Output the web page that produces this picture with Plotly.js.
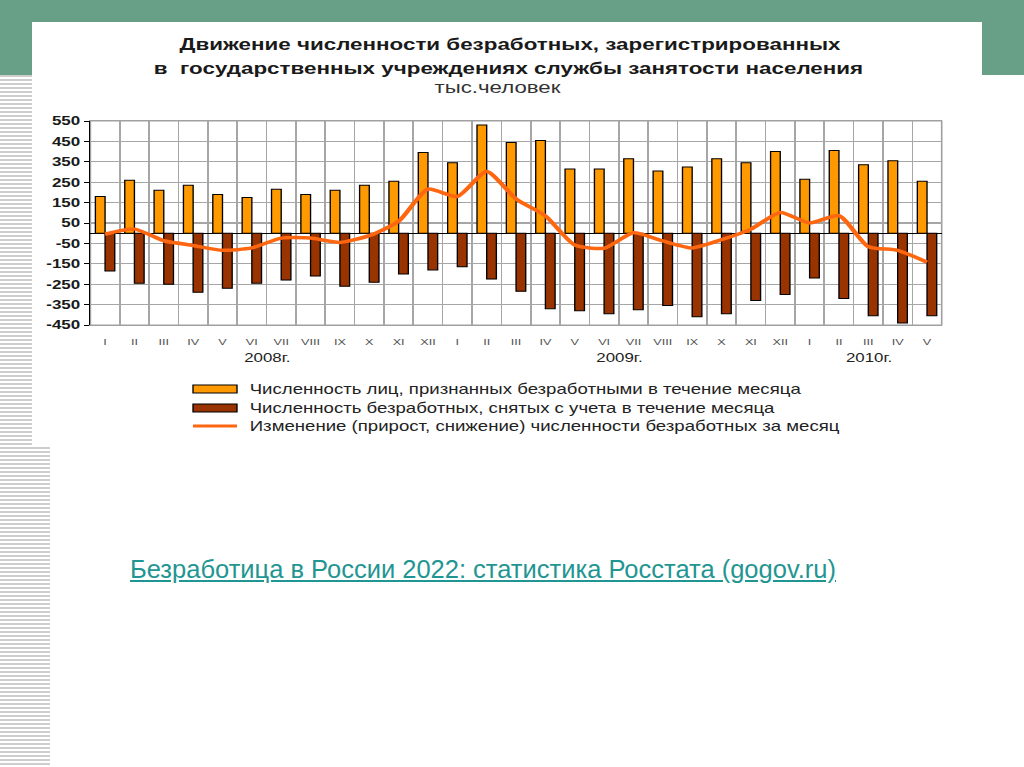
<!DOCTYPE html>
<html>
<head>
<meta charset="utf-8">
<script src="https://cdn.plot.ly/plotly-3.0.1.min.js"></script>
<style>
  html, body { margin:0; padding:0; width:1024px; height:767px; overflow:hidden; background:#ffffff; font-family:"Liberation Sans", Arial, sans-serif; }
  .green { position:absolute; background:#689f87; }
  .stripes { position:absolute; background:repeating-linear-gradient(to bottom, #cdcdcd 0px, #cdcdcd 2px, #ffffff 2px, #ffffff 4px); }
  #panel { position:absolute; left:32px; top:22px; width:950px; height:425px; background:#ffffff; }
  #chartwrap { position:absolute; left:0; top:0; width:759px; height:767px; transform:scaleX(1.34914); transform-origin:0 0; }
  #link { position:absolute; left:130px; top:555px; font-family:"Liberation Sans", Arial, sans-serif; font-size:25.5px; color:#1f9692; text-decoration:underline; white-space:nowrap; }
</style>
</head>
<body>
<div class="green" style="left:0;top:0;width:1024px;height:22px;"></div>
<div class="green" style="left:0;top:22px;width:32px;height:53px;"></div>
<div class="green" style="left:982px;top:22px;width:42px;height:53px;"></div>
<div class="stripes" style="left:0;top:75px;width:32px;height:372px;"></div>
<div class="stripes" style="left:0;top:447px;width:50px;height:320px;"></div>
<div id="panel"></div>
<div id="chartwrap"><div id="chart" style="width:759px;height:767px;"></div></div>
<a id="link">Безработица в России 2022: статистика Росстата (gogov.ru)</a>
<script>
// ---- data ----
const monthLabels = ['I','II','III','IV','V','VI','VII','VIII','IX','X','XI','XII',
                     'I','II','III','IV','V','VI','VII','VIII','IX','X','XI','XII',
                     'I','II','III','IV','V'];
const yearLabels = ['2008г.','2009г.','2010г.'];
const yearSpans = [12, 12, 5];
const registered = [180,260,210,235,190,175,215,190,210,235,255,395,
                    345,530,445,455,315,315,365,305,325,365,345,400,
                    265,405,335,355,255];
const removed = [-185,-245,-250,-290,-270,-245,-230,-210,-260,-240,-200,-180,
                 -165,-225,-285,-370,-380,-395,-375,-355,-410,-395,-330,-300,
                 -220,-320,-405,-440,-405];
const change = [-5,20,-37,-60,-84,-72,-24,-24,-45,-12,58,216,
                180,302,168,85,-58,-74,2,-38,-72,-32,20,102,
                50,86,-66,-84,-142];
const seriesNames = ['Численность лиц, признанных безработными в течение месяца',
                     'Численность безработных, снятых с учета в течение месяца',
                     'Изменение (прирост, снижение) численности безработных за месяц'];
const titleLines = ['Движение численности безработных, зарегистрированных',
                    'в  государственных учреждениях службы занятости населения'];
const unitLabel = 'тыс.человек';
const yTicks = [550,450,350,250,150,50,-50,-150,-250,-350,-450];

// ---- build ----
const W = 759, H = 767;
const S = 1024 / W;
const L = Math.round(90 / S), R = Math.round(W - 942 / S), T = 121, B = 442;
const plotW = W - L - R, plotH = H - T - B;
const px = X => (X / S - L) / plotW;      // page x -> paper x
const py = Y => (H - B - Y) / plotH;      // page y -> paper y

const cats = monthLabels.map((m, i) => i + '|' + m);
const colors = { reg:'#ff9900', rem:'#993300', line:'#ff6610' };
const baseFont = '"Liberation Sans", Arial, sans-serif';

const traces = [
  { type:'bar', x:cats, y:registered, name:seriesNames[0], showlegend:false,
    marker:{ color:colors.reg, line:{ color:'#000000', width:1 } } },
  { type:'bar', x:cats, y:removed, name:seriesNames[1], showlegend:false,
    marker:{ color:colors.rem, line:{ color:'#000000', width:1 } } },
  { type:'scatter', mode:'lines', x:cats, y:change, name:seriesNames[2], showlegend:false,
    line:{ color:colors.line, width:3.5, shape:'spline', smoothing:0.6 } }
];

const annotations = [];
annotations.push({ xref:'paper', yref:'paper', x:px(509), y:py(68), text:'<b>' + titleLines[1] + '</b>',
  showarrow:false, xanchor:'center', yanchor:'middle', font:{ size:16.6, color:'#1a1a1a' } });
annotations.push({ xref:'paper', yref:'paper', x:px(498), y:py(87), text:unitLabel,
  showarrow:false, xanchor:'center', yanchor:'middle', font:{ size:16.5, color:'#333333' } });

let start = 0;
yearLabels.forEach((yl, k) => {
  const mid = start + (yearSpans[k] - 1) / 2;
  annotations.push({ xref:'x', yref:'paper', x:mid, y:py(358), text:yl, showarrow:false,
    xanchor:'center', yanchor:'middle', font:{ size:12.5, color:'#222222' } });
  start += yearSpans[k];
});

const legendRows = [389, 408, 426];
const shapes = [
  { type:'rect', xref:'paper', yref:'paper', x0:0, x1:1, y0:0, y1:1, layer:'below',
    line:{ color:'#a0a0a0', width:1.2 } }
];
legendRows.forEach((Y, i) => {
  if (i < 2) {
    shapes.push({ type:'rect', xref:'paper', yref:'paper', x0:px(193), x1:px(237), y0:py(Y+4), y1:py(Y-4),
      fillcolor: i === 0 ? colors.reg : colors.rem, line:{ color:'#000000', width:1 } });
  } else {
    shapes.push({ type:'line', xref:'paper', yref:'paper', x0:px(193), x1:px(237), y0:py(Y), y1:py(Y),
      line:{ color:colors.line, width:3 } });
  }
  annotations.push({ xref:'paper', yref:'paper', x:px(247), y:py(Y), text:seriesNames[i], showarrow:false,
    xanchor:'left', yanchor:'middle', font:{ size:13.8, color:'#222222' } });
});

const layout = {
  width:W, height:H,
  margin:{ l:L, r:R, t:T, b:B, pad:0 },
  paper_bgcolor:'rgba(0,0,0,0)', plot_bgcolor:'#ffffff',
  font:{ family:baseFont, color:'#222222' },
  title:{ text:'<b>' + titleLines[0] + '</b>', x:px(510), xanchor:'center', xref:'paper',
          y:1 - 44/H, yref:'container', yanchor:'middle', font:{ size:16.6, color:'#1a1a1a' } },
  barmode:'group', bargap:0.34, bargroupgap:0,
  xaxis:{ type:'category', tickmode:'array', tickvals:cats, ticktext:monthLabels, tickson:'boundaries',
          showgrid:true, gridcolor:'#a6a6a6', gridwidth:1.2, ticks:'', ticklabelstandoff:8, tickangle:0,
          tickfont:{ size:9.4, color:'#555555' }, showline:true, linecolor:'#a0a0a0', linewidth:1.2,
          mirror:true, range:[-0.5, monthLabels.length - 0.5], fixedrange:true, zeroline:false },
  yaxis:{ range:[-450, 550], tickmode:'array', tickvals:yTicks, ticktext:yTicks.map(String),
          showgrid:true, gridcolor:'#a6a6a6', gridwidth:1.2, zeroline:true, zerolinecolor:'#000000', zerolinewidth:1,
          ticks:'outside', ticklen:4, tickcolor:'#000000', showline:true, linecolor:'#000000', linewidth:1,
          tickfont:{ size:12.6, color:'#1a1a1a', weight:'bold' }, fixedrange:true },
  shapes:shapes,
  annotations:annotations
};

Plotly.newPlot('chart', traces, layout, { staticPlot:true, displayModeBar:false });
</script>
</body>
</html>
